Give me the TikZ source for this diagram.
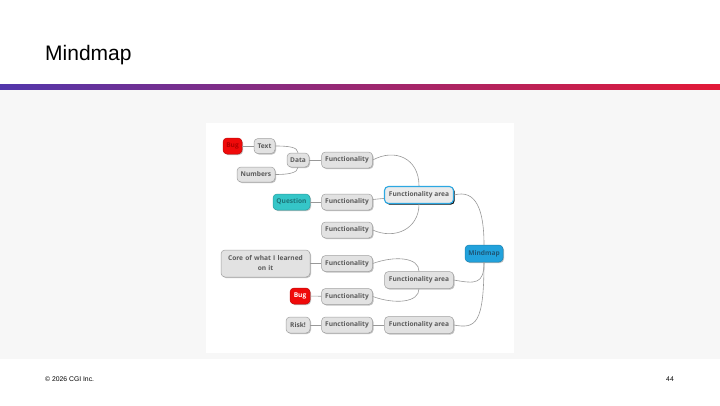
\documentclass[tikz,border=0pt]{standalone}
\usepackage{fontspec}
\setmainfont{Liberation Sans}
\newfontfamily\nodefont{Open Sans}
\usetikzlibrary{shadows}
\definecolor{cgipurple}{HTML}{5236AB}
\definecolor{cgired}{HTML}{E31937}
\definecolor{bandgray}{HTML}{F7F7F7}
\definecolor{nodefill}{HTML}{E2E2E2}
\definecolor{nodeline}{HTML}{A0A0A0}
\definecolor{nodetext}{HTML}{5A5A5A}
\definecolor{linkgray}{HTML}{999999}
\definecolor{bugred}{HTML}{F00A0A}
\definecolor{bugtext}{HTML}{B00000}
\definecolor{teal}{HTML}{35C6C8}
\definecolor{tealtext}{HTML}{1C7378}
\definecolor{mmblue}{HTML}{22A2DC}
\definecolor{mmtext}{HTML}{1E5878}
\definecolor{hlblue}{HTML}{2DA8E2}
\tikzset{
  mnode/.style={draw=nodeline, line width=0.5pt, fill=nodefill, rounded corners=4pt,
    inner sep=0pt, minimum height=16pt, text=nodetext,
    font=\nodefont\bfseries\fontsize{6.6}{10}\selectfont,
    drop shadow={shadow xshift=1pt, shadow yshift=-1pt, opacity=0.4, fill=black!60}},
  func/.style={mnode, minimum width=51pt},
  area/.style={mnode, minimum width=69pt, minimum height=17pt},
  link/.style={draw=linkgray, line width=0.6pt},
}
\begin{document}
\begin{tikzpicture}[x=1pt, y=-1pt]
\useasboundingbox (0,0) rectangle (720,405);
\fill[white] (0,0) rectangle (720,405);
% header
\node[anchor=base west, inner sep=0pt, font=\fontsize{21}{24}\selectfont] (title) at (45,60) {Mindmap};
\shade[left color=cgipurple, right color=cgired] (0,84) rectangle (720,90);
\fill[bandgray] (0,90) rectangle (720,359);
\fill[white] (206,123) rectangle (514,353);
% footer
\node[anchor=base west, inner sep=0pt, font=\fontsize{6.8}{8}\selectfont] (copy) at (45,381) {© 2026 CGI Inc.};
\node[anchor=base east, inner sep=0pt, font=\fontsize{6.8}{8}\selectfont] (page) at (674,381) {44};

% nodes
\node[mnode, minimum width=38pt, minimum height=17pt, fill=mmblue, draw=mmblue!80!black, text=mmtext] (mm) at (484,253.5) {Mindmap};

\node[area, fill=nodefill!70!white, draw=hlblue, line width=1.1pt,
  drop shadow={shadow xshift=1.2pt, shadow yshift=-1.2pt, opacity=0.9, fill=black}] (fa1) at (419,195) {Functionality area};
\node[area] (fa2) at (419,280) {Functionality area};
\node[area] (fa3) at (419,325) {Functionality area};

\node[func] (f1) at (347,160) {Functionality};
\node[func] (f2) at (347,202) {Functionality};
\node[func] (f3) at (347,230) {Functionality};
\node[func] (f4) at (347,263.5) {Functionality};
\node[func] (f5) at (347,296.5) {Functionality};
\node[func] (f6) at (347,325) {Functionality};

\node[mnode, minimum width=22pt, minimum height=14pt] (data) at (298,160) {Data};
\node[mnode, minimum width=21pt, minimum height=15pt] (text) at (264.5,146) {Text};
\node[mnode, minimum width=38pt, minimum height=15pt] (num) at (256,174.5) {Numbers};
\node[mnode, minimum width=19pt, fill=bugred, draw=bugred!80!black, text=bugtext] (bug1) at (232.5,146) {Bug};
\node[mnode, minimum width=37pt, fill=teal, draw=teal!80!black, text=tealtext] (q) at (291.5,202) {Question};
\node[mnode, minimum width=89pt, minimum height=27pt, text width=85pt, align=center] (core) at (265.5,263.5) {Core of what I learned\\on it};
\node[mnode, minimum width=20pt, fill=bugred, draw=bugred!80!black, text=white] (bug2) at (300,296) {Bug};
\node[mnode, minimum width=24pt] (risk) at (298,325) {Risk!};

% connectors
\draw[link] (bug1) -- (text);
\draw[link] (text.east) .. controls +(12,0) and +(0,-6) .. (data.north);
\draw[link] (num.east) .. controls +(12,0) and +(0,6) .. (data.south);
\draw[link] (data) -- (f1);
\draw[link] (q) -- (f2);
\draw[link] (f1.east) .. controls +(22,-12) and +(0,-28) .. (fa1.north);
\draw[link] (f2) -- (fa1);
\draw[link] (f3.east) .. controls +(22,10) and +(0,25) .. (fa1.south);
\draw[link] (core) -- (f4);
\draw[link] (bug2) -- (f5);
\draw[link] (risk) -- (f6);
\draw[link] (f6) -- (fa3);
\draw[link] (f4.east) .. controls +(22,-8) and +(0,-14) .. (fa2.north);
\draw[link] (f5.east) .. controls +(22,8) and +(0,14) .. (fa2.south);
\draw[link] (fa1.east) .. controls +(22,-6) and +(0,-35) .. (mm.north);
\draw[link] (mm.south) .. controls +(0,22) and +(22,4) .. (fa2.east);
\draw[link] (mm.south) .. controls +(0,62) and +(22,4) .. (fa3.east);
\end{tikzpicture}
\end{document}
